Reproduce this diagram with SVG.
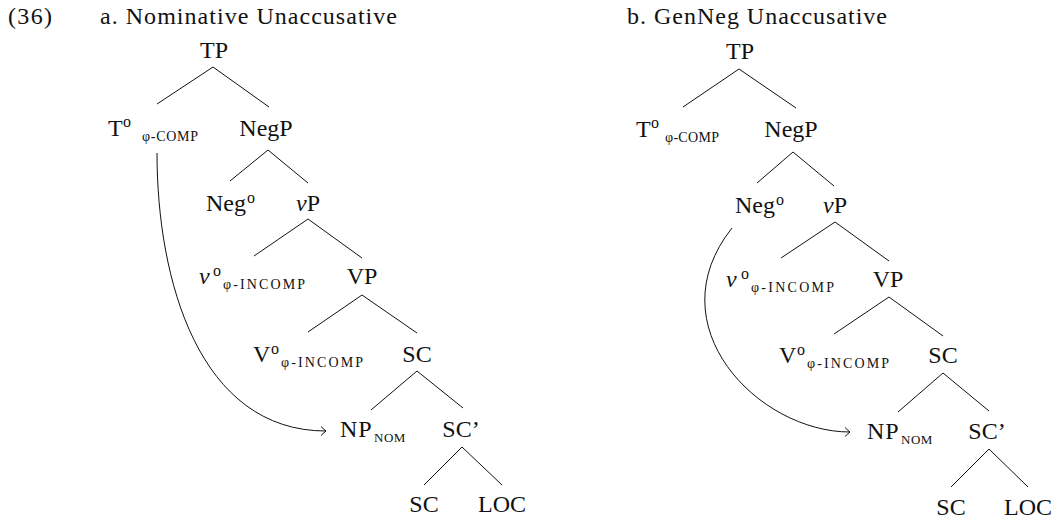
<svg xmlns="http://www.w3.org/2000/svg" width="1059" height="522" viewBox="0 0 1059 522">
<style>
text{font-family:"Liberation Serif","Times New Roman",serif;fill:#111;}
.n{font-size:24px;}
.m{font-size:24px;text-anchor:middle;}
.i{font-style:italic;}
.o{font-size:16px;}
.s{font-size:14px;}
.s2{font-size:13px;}
.edge{stroke:#111;stroke-width:1;fill:none;}
.arr{stroke:#111;stroke-width:1;fill:none;}
</style>
<defs>
<marker id="ah" markerUnits="userSpaceOnUse" markerWidth="12" markerHeight="12" orient="auto" refX="0" refY="0" overflow="visible">
<path d="M-5,-4.5 Q-1.5,-1 0,0 Q-1.5,1 -5,4.5" stroke="#111" stroke-width="1" fill="none"/>
</marker>
</defs>
<rect width="1059" height="522" fill="#fff"/>

<g id="titles">
<text class="n" x="8" y="24" textLength="44">(36)</text>
<text class="n" x="100" y="24" textLength="297">a. Nominative Unaccusative</text>
<text class="n" x="627" y="24" textLength="260">b. GenNeg Unaccusative</text>
</g>

<g id="connectors">
<path class="edge" d="M213,67 L157,104 M213,67 L269,107"/>
<path class="edge" d="M268,150 L230,181 M268,150 L308,183"/>
<path class="edge" d="M308,219 L254,256 M308,219 L362,258"/>
<path class="edge" d="M362,295 L308,332 M362,295 L417,333"/>
<path class="edge" d="M417,371 L371,410 M417,371 L463,408"/>
<path class="edge" d="M462,447 L424,485 M462,447 L502,485"/>
<path class="edge" d="M739,69 L683,107 M739,69 L796,108"/>
<path class="edge" d="M793,152 L757,183 M793,152 L834,186"/>
<path class="edge" d="M835,222 L781,258 M835,222 L889,261"/>
<path class="edge" d="M889,297 L834,334 M889,297 L943,336"/>
<path class="edge" d="M943,373 L898,412 M943,373 L989,411"/>
<path class="edge" d="M989,449 L951,487 M989,449 L1028,487"/>
<path class="arr" d="M157,153 C157,280 199,431 326,431" marker-end="url(#ah)"/>
<path class="arr" d="M732,228 C654.5,325.5 758,432 850,432" marker-end="url(#ah)"/>
</g>

<g id="a-TP"><text class="m" x="214" y="58">TP</text></g>
<g id="a-T0"><text class="n" x="108" y="136">T</text><text class="o" x="123" y="127">o</text><text class="s" x="142" y="141" textLength="56">φ-COMP</text></g>
<g id="a-NegP"><text class="m" x="266" y="136">NegP</text></g>
<g id="a-Neg0"><text class="m" x="226" y="211">Neg</text><text class="o" x="247" y="203">o</text></g>
<g id="a-vP"><text class="n" x="296" y="211"><tspan class="i">v</tspan>P</text></g>
<g id="a-v0"><text class="n i" x="199" y="284">v</text><text class="o" x="213" y="276">o</text><text class="s" x="223" y="289" textLength="82">φ-INCOMP</text></g>
<g id="a-VP"><text class="m" x="362" y="284">VP</text></g>
<g id="a-V0"><text class="n" x="253" y="362">V</text><text class="o" x="271" y="354">o</text><text class="s" x="281" y="367" textLength="82">φ-INCOMP</text></g>
<g id="a-SC"><text class="m" x="417" y="362">SC</text></g>
<g id="a-NP"><text class="n" x="340" y="437" letter-spacing="1">NP</text><text class="s2" x="374" y="442" letter-spacing="0.5">NOM</text></g>
<g id="a-SCp"><text class="m" x="461" y="437">SC’</text></g>
<g id="a-SC2"><text class="m" x="424" y="512">SC</text></g>
<g id="a-LOC"><text class="m" x="502" y="512">LOC</text></g>

<g id="b-TP"><text class="m" x="740" y="59">TP</text></g>
<g id="b-T0"><text class="n" x="636" y="137">T</text><text class="o" x="651" y="128">o</text><text class="s" x="665" y="142" textLength="54">φ-COMP</text></g>
<g id="b-NegP"><text class="m" x="791" y="137">NegP</text></g>
<g id="b-Neg0"><text class="m" x="755" y="213">Neg</text><text class="o" x="776" y="205">o</text></g>
<g id="b-vP"><text class="n" x="823" y="213"><tspan class="i">v</tspan>P</text></g>
<g id="b-v0"><text class="n i" x="726" y="287">v</text><text class="o" x="741" y="279">o</text><text class="s" x="751" y="292" textLength="83">φ-INCOMP</text></g>
<g id="b-VP"><text class="m" x="888" y="287">VP</text></g>
<g id="b-V0"><text class="n" x="779" y="363">V</text><text class="o" x="797" y="355">o</text><text class="s" x="807" y="368" textLength="82">φ-INCOMP</text></g>
<g id="b-SC"><text class="m" x="943" y="363">SC</text></g>
<g id="b-NP"><text class="n" x="867" y="439" letter-spacing="1">NP</text><text class="s2" x="901" y="444" letter-spacing="0.5">NOM</text></g>
<g id="b-SCp"><text class="m" x="987" y="439">SC’</text></g>
<g id="b-SC2"><text class="m" x="951" y="515">SC</text></g>
<g id="b-LOC"><text class="m" x="1028" y="515">LOC</text></g>
</svg>
